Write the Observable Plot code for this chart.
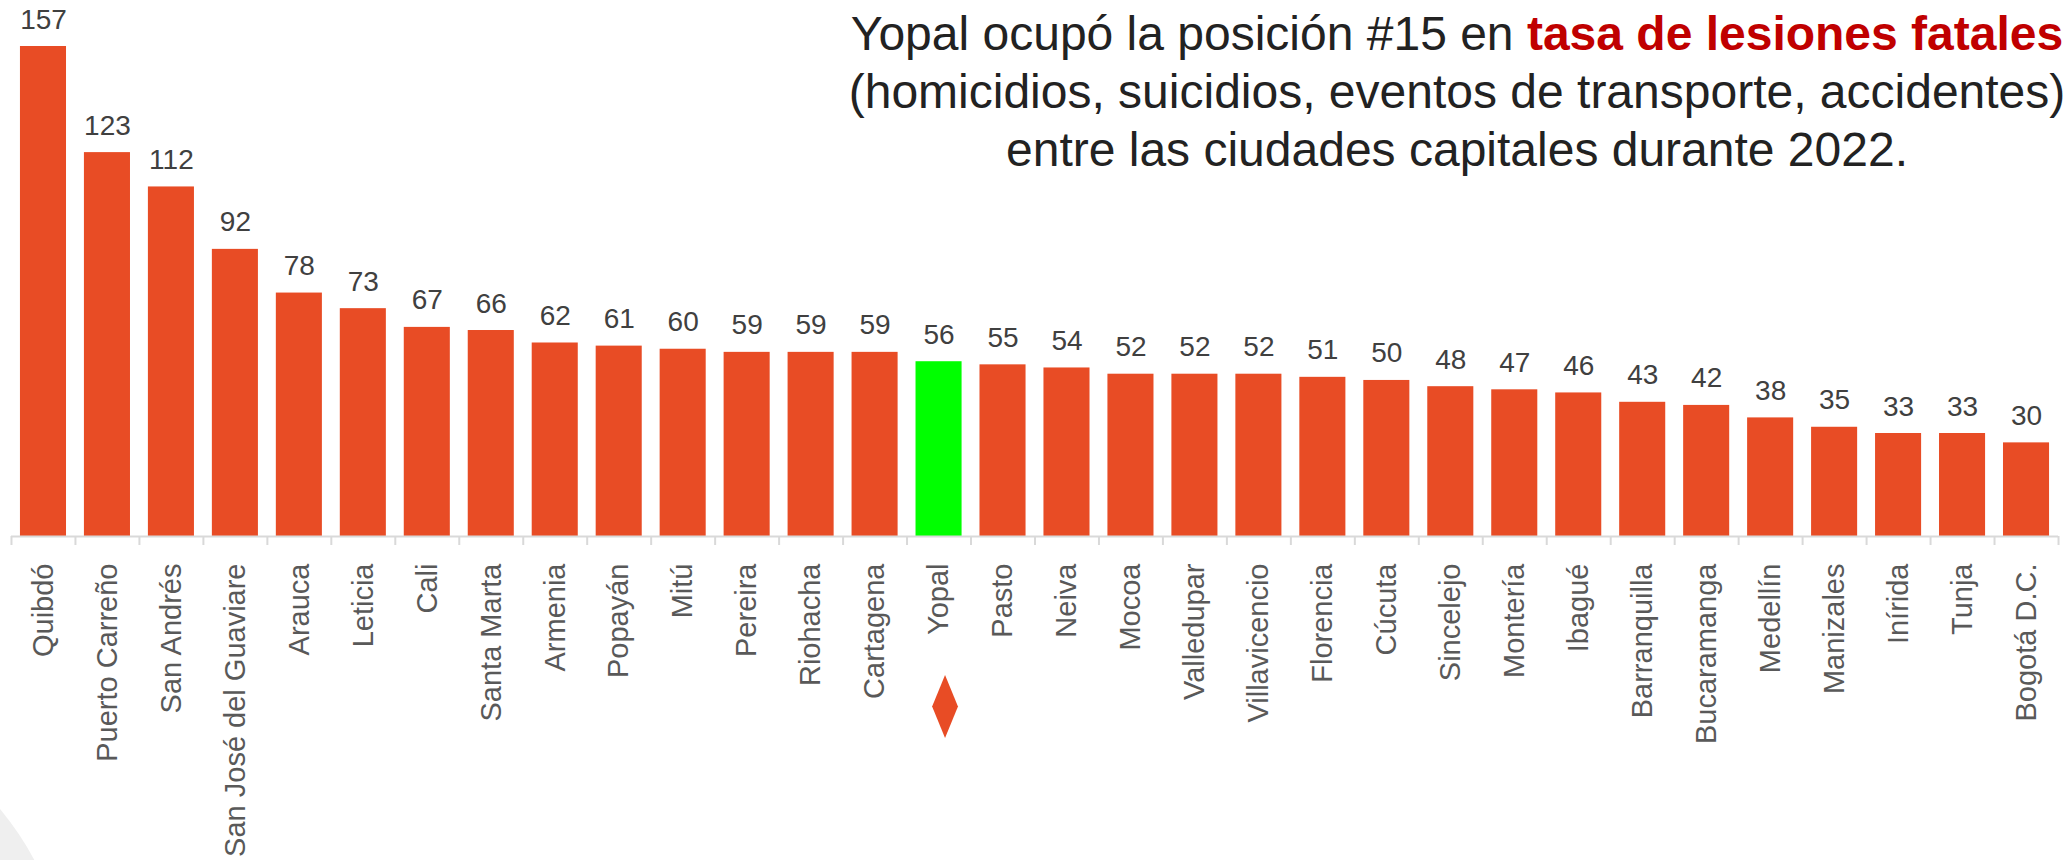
<!DOCTYPE html>
<html>
<head>
<meta charset="utf-8">
<script src="https://cdn.jsdelivr.net/npm/d3@7"></script>
<script src="https://cdn.jsdelivr.net/npm/@observablehq/plot@0.6"></script>
<style>
  html, body { margin: 0; padding: 0; background: #ffffff; }
  #wrap { position: relative; width: 2070px; height: 860px; overflow: hidden; font-family: "Liberation Sans", Arial, sans-serif; }
  #blob { position: absolute; left: -547px; top: 697px; width: 618px; height: 618px; border-radius: 50%; background: #efefef; }
  #chart { position: absolute; left: 0; top: 0; }
  #title { position: absolute; left: 840px; width: 1234px; top: 5px; text-align: center; font-size: 48px; line-height: 58px; color: #222222; }
  #title b { color: #C00000; }
</style>
</head>
<body>
<div id="wrap">
  <div id="blob"></div>
  <div id="chart"></div>
  <div id="title"></div>
</div>
<script>
// ---- data ----
const cities = [
  "Quibdó", "Puerto Carreño", "San Andrés", "San José del Guaviare", "Arauca",
  "Leticia", "Cali", "Santa Marta", "Armenia", "Popayán", "Mitú", "Pereira",
  "Riohacha", "Cartagena", "Yopal", "Pasto", "Neiva", "Mocoa", "Valledupar",
  "Villavicencio", "Florencia", "Cúcuta", "Sincelejo", "Montería", "Ibagué",
  "Barranquilla", "Bucaramanga", "Medellín", "Manizales", "Inírida", "Tunja",
  "Bogotá D.C."
];
const values = [
  157, 123, 112, 92, 78, 73, 67, 66, 62, 61, 60, 59, 59, 59, 56, 55, 54, 52,
  52, 52, 51, 50, 48, 47, 46, 43, 42, 38, 35, 33, 33, 30
];
const highlightCity = "Yopal";
const titleLine1 = "Yopal ocupó la posición #15 en ";
const titleBold = "tasa de lesiones fatales";
const titleLine2 = "(homicidios, suicidios, eventos de transporte, accidentes)";
const titleLine3 = "entre las ciudades capitales durante 2022.";

// ---- styling ----
const barColor = "#E84C25";
const highlightColor = "#00FF00";
const axisColor = "#D9D9D9";

const data = cities.map((c, i) => ({city: c, value: values[i]}));

// tall narrow diamond symbol
const tallDiamond = {
  draw(context, size) {
    const r = Math.sqrt(size / Math.PI);
    const w = r * 0.41;
    context.moveTo(0, -r);
    context.lineTo(w, 0);
    context.lineTo(0, r);
    context.lineTo(-w, 0);
    context.closePath();
  }
};

const chart = Plot.plot({
  width: 2070,
  height: 860,
  marginLeft: 11,
  marginRight: 12,
  marginTop: 46,
  marginBottom: 324,
  style: {fontFamily: "'Liberation Sans', Arial, sans-serif", background: "transparent", overflow: "visible"},
  x: {domain: cities, paddingInner: 0.28, paddingOuter: 0.14, label: null},
  y: {domain: [0, 157], axis: null},
  marks: [
    Plot.barY(data, {x: "city", y: "value", fill: d => d.city === highlightCity ? highlightColor : barColor}),
    Plot.ruleY([0], {stroke: axisColor, strokeWidth: 2}),
    Plot.ruleX(cities, {x: d => d, y1: 0, y2: 0, insetBottom: -9, dx: -32, stroke: axisColor, strokeWidth: 2}),
    Plot.ruleX([cities[cities.length - 1]], {x: d => d, y1: 0, y2: 0, insetBottom: -9, dx: 32, stroke: axisColor, strokeWidth: 2}),
    Plot.text(data, {x: "city", y: "value", text: d => String(d.value), dy: -18, lineAnchor: "bottom", fontSize: 28, fill: "#404040"}),
    Plot.axisX({tickSize: 0, tickPadding: 27, tickRotate: -90, fontSize: 29, fill: "#595959", label: null}),
    Plot.dot([highlightCity], {x: d => d, frameAnchor: "bottom", dy: 170, dx: 6, r: 31.5, symbol: tallDiamond, fill: barColor, stroke: "none"})
  ]
});
document.getElementById("chart").appendChild(chart);

const t = document.getElementById("title");
t.appendChild(document.createTextNode(titleLine1));
const b = document.createElement("b");
b.textContent = titleBold;
t.appendChild(b);
t.appendChild(document.createElement("br"));
t.appendChild(document.createTextNode(titleLine2));
t.appendChild(document.createElement("br"));
t.appendChild(document.createTextNode(titleLine3));
</script>
</body>
</html>
